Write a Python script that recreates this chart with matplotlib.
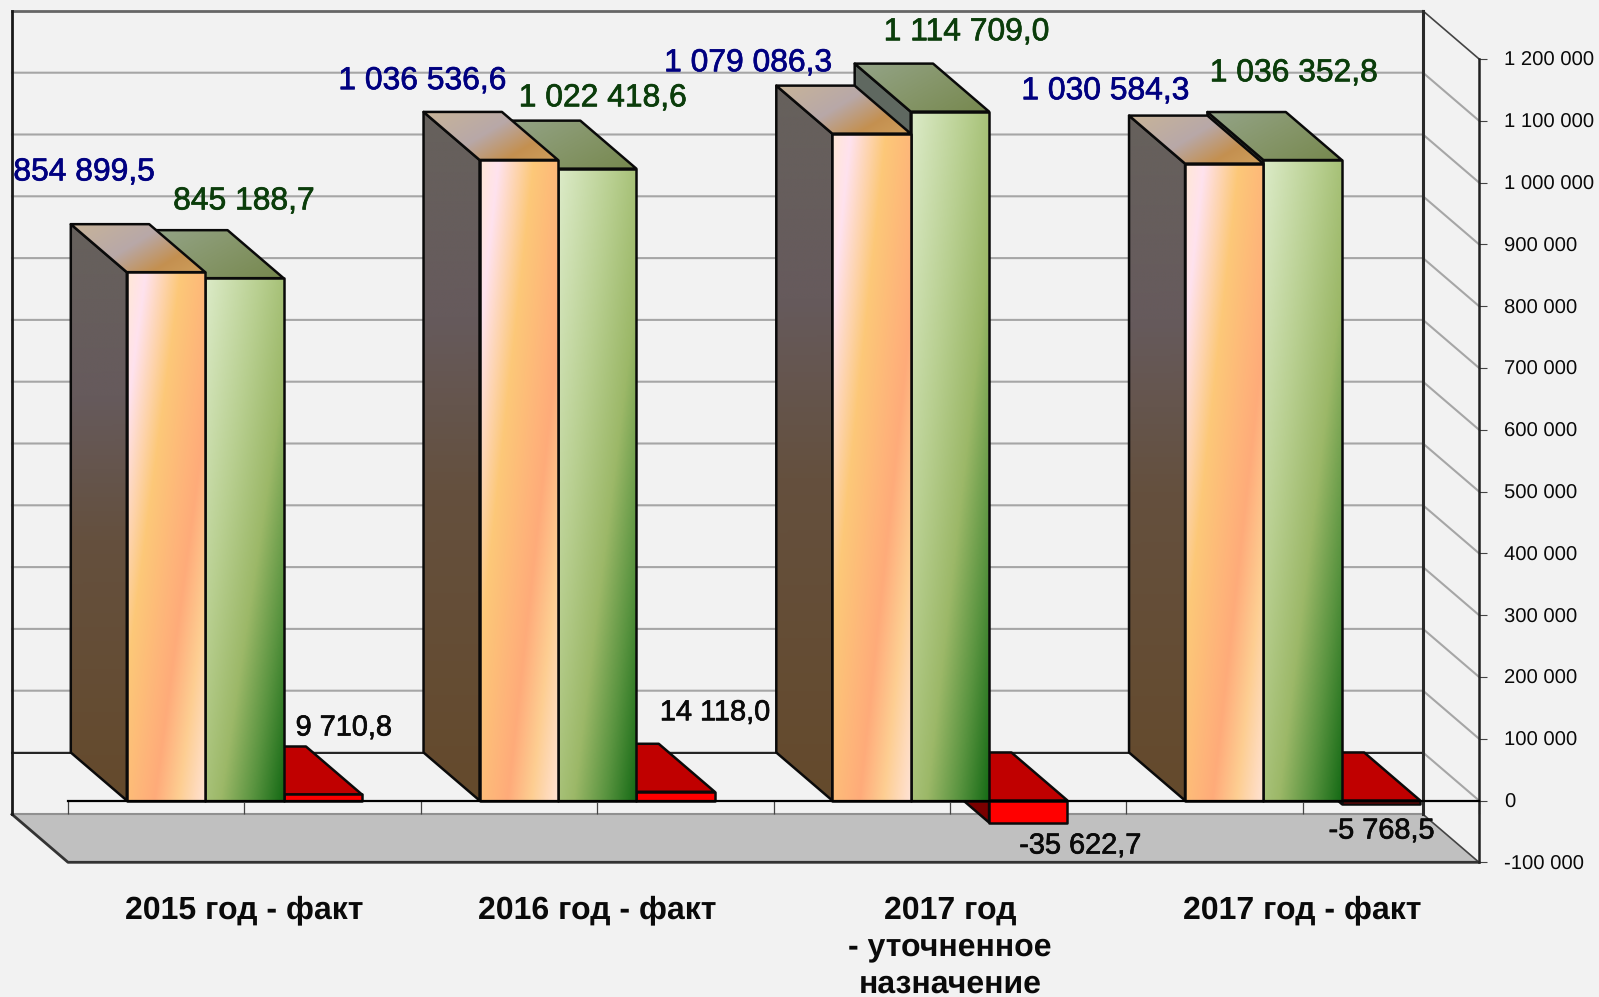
"""
Oblique 3D column chart: budget income, spending and balance by year
"""

# imports
import numpy as np
import matplotlib
matplotlib.use('Agg')
import matplotlib.pyplot as plt
import matplotlib.patheffects as pe
from matplotlib.colors import LinearSegmentedColormap
from matplotlib.patches import Polygon

plt.rcParams['text.hinting'] = 'none'

# data
categories = ['2015 год - факт', '2016 год - факт',
    '2017 год\n- уточненное\nназначение', '2017 год - факт']
income = [854899.5, 1036536.6, 1079086.3, 1030584.3]
spending = [845188.7, 1022418.6, 1114709.0, 1036352.8]
balance = [9710.8, 14118.0, -35622.7, -5768.5]
income_text = ['854 899,5', '1 036 536,6', '1 079 086,3', '1 030 584,3']
spending_text = ['845 188,7', '1 022 418,6', '1 114 709,0', '1 036 352,8']
balance_text = ['9 710,8', '14 118,0', '-35 622,7', '-5 768,5']
y_ticks = [-100000, 0, 100000, 200000, 300000, 400000, 500000, 600000,
    700000, 800000, 900000, 1000000, 1100000, 1200000]
y_tick_text = ['-100 000', '0', '100 000', '200 000', '300 000', '400 000',
    '500 000', '600 000', '700 000', '800 000', '900 000', '1 000 000',
    '1 100 000', '1 200 000']

# label offsets from the top centre of each bar's front, in pixels
income_off = [(-82, 100), (-96.5, 79), (-123.5, 70.6), (-119, 72.6)]
spending_off = [(-0.6, 77), (5.5, 70.6), (16.5, 79.6), (-9, 87)]
balance_off = [(21, 66.5), (39.5, 79), (52, -23.5), (0.5, -27)]

# layout
W, H = 1599, 997
px_x0, px_y0 = 68, 800.5     # where category 0 / value 0 lie in the picture
cat_px = 352.75              # pixels per category
val_px = 61.8 / 100000       # pixels per unit of value
dep_x = -56 / cat_px         # depth of the box in category units
dep_y = 48 / val_px          # depth of the box in value units
bar_w = 1 / 4.5
gap = 0.75 * bar_w
bg = '#f2f2f2'
fam = ['Liberation Sans', 'DejaVu Sans']

# gradients
c_front1 = LinearSegmentedColormap.from_list('f1', [(0, '#ffe8d6'),
    (0.125, '#ffe2ee'), (0.36, '#fcc878'), (0.66, '#ffab7a'),
    (0.82, '#fdce92'), (1, '#ffe2d4')])
c_front2 = LinearSegmentedColormap.from_list('f2', [(0, '#dcebc8'),
    (0.35, '#b8cf90'), (0.6, '#9cb868'), (0.8, '#5a9440'), (1, '#156a15')])
c_side1 = LinearSegmentedColormap.from_list('s1', [(0, '#66615c'),
    (0.3, '#665a5c'), (0.55, '#64503e'), (1, '#654a2c')])
c_top1 = LinearSegmentedColormap.from_list('t1', [(0, '#c8b498'),
    (0.45, '#b8a8a8'), (0.75, '#c49050'), (1, '#cf9f5c')])
c_top2 = LinearSegmentedColormap.from_list('t2', [(0, '#94a488'),
    (0.5, '#86966a'), (1, '#76884e')])
c_side2 = '#5f6860'

fig = plt.figure(figsize=(W / 100, H / 100), dpi=100, facecolor=bg)
ax = fig.add_axes([0, 0, 1, 1], facecolor=bg)
xlim = (-px_x0 / cat_px, (W - px_x0) / cat_px)
ylim = ((px_y0 - H) / val_px, px_y0 / val_px)

zz = [1.0]
def next_z():
    zz[0] += 0.01
    return zz[0]

def shade(verts, cmap, kx, ky):
    # gradient image clipped to a polygon, t runs along kx*x + ky*y (y down)
    verts = np.array(verts)
    x0, x1 = verts[:, 0].min(), verts[:, 0].max()
    y0, y1 = verts[:, 1].min(), verts[:, 1].max()
    xx, yy = np.meshgrid(np.linspace(0, 1, 120), np.linspace(0, 1, 300))
    t = (kx * xx + ky * yy) / (kx + ky)
    z = next_z()
    im = ax.imshow(t, cmap=cmap, vmin=0, vmax=1, extent=(x0, x1, y0, y1),
        aspect='auto', interpolation='bilinear', zorder=z)
    pg = Polygon(verts, closed=True, facecolor='none', edgecolor='#0a0a0a',
        linewidth=1.8, joinstyle='round', zorder=z + 0.001)
    ax.add_patch(pg)
    im.set_clip_path(pg)

def flat(verts, color, lw=1.8):
    ax.add_patch(Polygon(verts, closed=True, facecolor=color,
        edgecolor='#0a0a0a', linewidth=lw, joinstyle='round', zorder=next_z()))

def box_faces(x, val):
    # front, left side and top faces of one bar
    top, bot = max(val, 0), min(val, 0)
    front = [(x, bot), (x + bar_w, bot), (x + bar_w, top), (x, top)]
    side = [(x, bot), (x, top), (x + dep_x, top + dep_y), (x + dep_x, bot + dep_y)]
    roof = [(x, top), (x + bar_w, top), (x + bar_w + dep_x, top + dep_y),
        (x + dep_x, top + dep_y)]
    return front, side, roof

# box behind the bars
floor_v = y_ticks[0]
top_v = y_ticks[-1]
x_end = len(categories)
for v in y_ticks[1:-1]:
    ax.plot([dep_x, x_end + dep_x, x_end], [v + dep_y, v + dep_y, v],
        color='#a6a6a6', lw=1.5, zorder=0.5)
ax.plot([dep_x, x_end + dep_x], [dep_y, dep_y], color='#222222', lw=1.4, zorder=0.6)
ax.plot([dep_x, x_end + dep_x], [top_v + dep_y] * 2, color='#666666', lw=2, zorder=0.6)
ax.plot([x_end + dep_x, x_end], [top_v + dep_y, top_v], color='#444444', lw=1.2, zorder=0.6)
ax.add_patch(Polygon([(dep_x, floor_v + dep_y), (x_end + dep_x, floor_v + dep_y),
    (x_end, floor_v), (0, floor_v)], closed=True, facecolor='#c0c0c0',
    edgecolor='none', zorder=0.55))
ax.plot([x_end + dep_x, x_end], [floor_v + dep_y, floor_v], color='#444444', lw=1.2, zorder=0.6)
ax.plot([dep_x, x_end + dep_x], [floor_v + dep_y] * 2, color='#909090', lw=1.5, zorder=0.6)
ax.plot([dep_x, 0, x_end], [floor_v + dep_y, floor_v, floor_v], color='#333333', lw=2, zorder=0.6)
ax.plot([dep_x, dep_x], [floor_v + dep_y, top_v + dep_y], color='#1a1a1a', lw=2, zorder=0.7)
ax.plot([x_end + dep_x] * 2, [floor_v + dep_y, top_v + dep_y], color='#2a2a2a', lw=2.2, zorder=0.7)

# bars, drawn from the far right so nearer faces cover the rest
for i in range(len(categories) - 1, -1, -1):
    x1 = i + gap
    x2 = x1 + bar_w
    x3 = x2 + bar_w

    front, side, roof = box_faces(x3, balance[i])
    flat(side, '#7a0000')
    flat(roof, '#c00000')
    flat(front, '#ff0000')

    front, side, roof = box_faces(x2, spending[i])
    flat(side, c_side2)
    shade(roof, c_top2, 1, 0.6)
    shade(front, c_front2, 1, 1)

    front, side, roof = box_faces(x1, income[i])
    shade(side, c_side1, 0.001, 1)
    shade(roof, c_top1, 1, 0.6)
    shade(front, c_front1, 1, 0.9)

# data labels
all_vals = [income, spending, balance]
all_text = [income_text, spending_text, balance_text]
all_off = [income_off, spending_off, balance_off]
all_col = ['#000080', '#0b3d0b', '#0a0a0a']
all_fs = [22.9, 22.9, 20.8]
for s in range(3):
    for i in range(len(categories)):
        ax.annotate(all_text[s][i], (i + gap + bar_w * (s + 0.5), all_vals[s][i]),
            xytext=all_off[s][i], textcoords='offset pixels', ha='center',
            va='center', fontsize=all_fs[s], color=all_col[s], family=fam, zorder=50,
            path_effects=[pe.withStroke(linewidth=0.5, foreground=all_col[s])])

# axes, moved to the front of the box
ax.set_xlim(xlim)
ax.set_ylim(ylim)
for sp in ['top', 'left']:
    ax.spines[sp].set_visible(False)
ax.spines['bottom'].set_position(('data', 0))
ax.spines['bottom'].set_bounds(0, x_end)
ax.spines['bottom'].set_linewidth(1.6)
ax.spines['bottom'].set_zorder(40)
ax.spines['right'].set_position(('data', x_end))
ax.spines['right'].set_bounds(floor_v, top_v)
ax.spines['right'].set_linewidth(1.8)
ax.spines['right'].set_color('#222222')
ax.spines['right'].set_zorder(40)
ax.xaxis.set_zorder(30)
ax.yaxis.set_zorder(30)

ax.yaxis.tick_right()
ax.set_yticks(y_ticks)
ax.set_yticklabels(y_tick_text, family=fam)
ax.tick_params(axis='y', direction='out', length=5.8, width=0.8, color='#444444',
    pad=12, labelsize=14.6, labelcolor='#0a0a0a')

x_ticks = np.arange(0, x_end + 0.5, 0.5)
x_text = [''] * len(x_ticks)
for i, c in enumerate(categories):
    x_text[2 * i + 1] = c
ax.set_xticks(x_ticks)
ax.set_xticklabels(x_text, family=fam, weight='bold', linespacing=1.32)
ax.tick_params(axis='x', direction='out', length=9, width=0.9, color='#444444',
    pad=59, labelsize=23, labelcolor='#0a0a0a')

fig.savefig('out.png', dpi=100, facecolor=bg)
